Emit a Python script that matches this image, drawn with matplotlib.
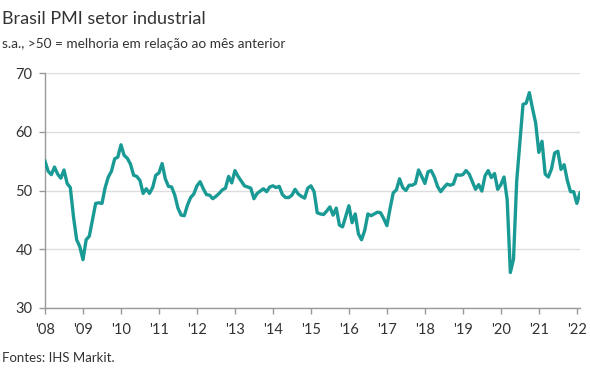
import matplotlib
matplotlib.use("Agg")
import matplotlib.pyplot as plt
import numpy as np

# Brasil PMI setor industrial, monthly, Jan 2008 - Feb 2022
pmi_2008 = [55.0, 53.3, 52.7, 54.0, 52.8, 52.1, 53.5, 51.2, 50.5, 45.5, 41.6, 40.4]
pmi_2009 = [38.2, 41.6, 42.2, 45.0, 47.8, 47.9, 47.8, 50.5, 52.3, 53.3, 55.4, 55.7]
pmi_2010 = [57.8, 56.0, 55.5, 54.5, 52.6, 52.4, 51.7, 49.5, 50.3, 49.5, 50.5, 52.6]
pmi_2011 = [53.0, 54.6, 52.0, 50.7, 50.6, 49.2, 47.0, 45.8, 45.7, 47.5, 48.8, 49.4]
pmi_2012 = [50.8, 51.5, 50.3, 49.3, 49.2, 48.6, 49.0, 49.5, 50.1, 50.4, 52.4, 51.3]
pmi_2013 = [53.4, 52.4, 51.6, 50.8, 50.6, 50.4, 48.6, 49.5, 49.9, 50.3, 49.8, 50.6]
pmi_2014 = [50.8, 50.5, 50.7, 49.3, 48.8, 48.8, 49.2, 50.2, 49.4, 49.0, 48.7, 50.4]
pmi_2015 = [50.8, 49.8, 46.2, 46.0, 45.9, 46.5, 47.2, 45.8, 47.0, 44.1, 43.8, 45.6]
pmi_2016 = [47.4, 44.5, 46.0, 42.6, 41.6, 43.2, 46.0, 45.7, 46.0, 46.3, 46.2, 45.2]
pmi_2017 = [44.0, 46.9, 49.6, 50.1, 52.0, 50.5, 50.0, 50.9, 50.9, 51.2, 53.5, 52.4]
pmi_2018 = [51.2, 53.2, 53.4, 52.3, 50.7, 49.8, 50.5, 51.1, 50.9, 51.1, 52.7, 52.6]
pmi_2019 = [52.7, 53.4, 52.8, 51.5, 50.2, 51.0, 49.9, 52.5, 53.4, 52.2, 52.9, 50.2]
pmi_2020 = [51.0, 52.3, 48.4, 36.0, 38.3, 51.6, 58.2, 64.7, 64.9, 66.7, 64.0, 61.5]
pmi_2021 = [56.5, 58.4, 52.8, 52.3, 53.7, 56.4, 56.7, 53.6, 54.4, 51.7, 49.8, 49.8]
pmi_2022 = [47.8, 49.6]

years = list(range(2008, 2023))
year_labels = ["'" + str(y)[2:] for y in years]
y_ticks = [30, 40, 50, 60, 70]

pmi = np.array(pmi_2008 + pmi_2009 + pmi_2010 + pmi_2011 + pmi_2012 + pmi_2013
               + pmi_2014 + pmi_2015 + pmi_2016 + pmi_2017 + pmi_2018 + pmi_2019
               + pmi_2020 + pmi_2021 + pmi_2022)
t = 2008 + np.arange(len(pmi)) / 12

plt.rcParams["font.family"] = ["Lato", "DejaVu Sans"]
text_color = "#333333"
axis_color = "#999999"

fig = plt.figure(figsize=(5.9, 3.89), dpi=100)
ax = fig.add_axes([45 / 590, 1 - 307.7 / 389, 535 / 590, 234.4 / 389])

ax.plot(t, pmi, color="#1a9a95", lw=2.4, solid_joinstyle="round", zorder=3)

ax.set_xlim(2008, 2008 + 169 / 12)
ax.set_ylim(30, 70)
ax.set_yticks(y_ticks)
ax.set_xticks(years)
ax.set_xticklabels(year_labels)

ax.grid(axis="y", color="#dddddd", lw=1)
ax.set_axisbelow(True)
for side in ["top", "right"]:
    ax.spines[side].set_visible(False)
for side in ["left", "bottom"]:
    ax.spines[side].set_color(axis_color)
    ax.spines[side].set_linewidth(1)
ax.tick_params(axis="both", colors=axis_color, labelcolor=text_color,
               labelsize=10.5, length=4, width=1)
ax.tick_params(axis="x", pad=7)
ax.tick_params(axis="y", pad=5)

fig.text(0.004, 0.952, "Brasil PMI setor industrial", fontsize=13,
         color=text_color, va="center", ha="left")
fig.text(0.004, 0.888, "s.a., >50 = melhoria em relação ao mês anterior",
         fontsize=9.8, color=text_color, va="center", ha="left")
fig.text(0.004, 0.08, "Fontes: IHS Markit.", fontsize=9.5, color=text_color,
         va="center", ha="left")

fig.savefig("out.png", dpi=100)
